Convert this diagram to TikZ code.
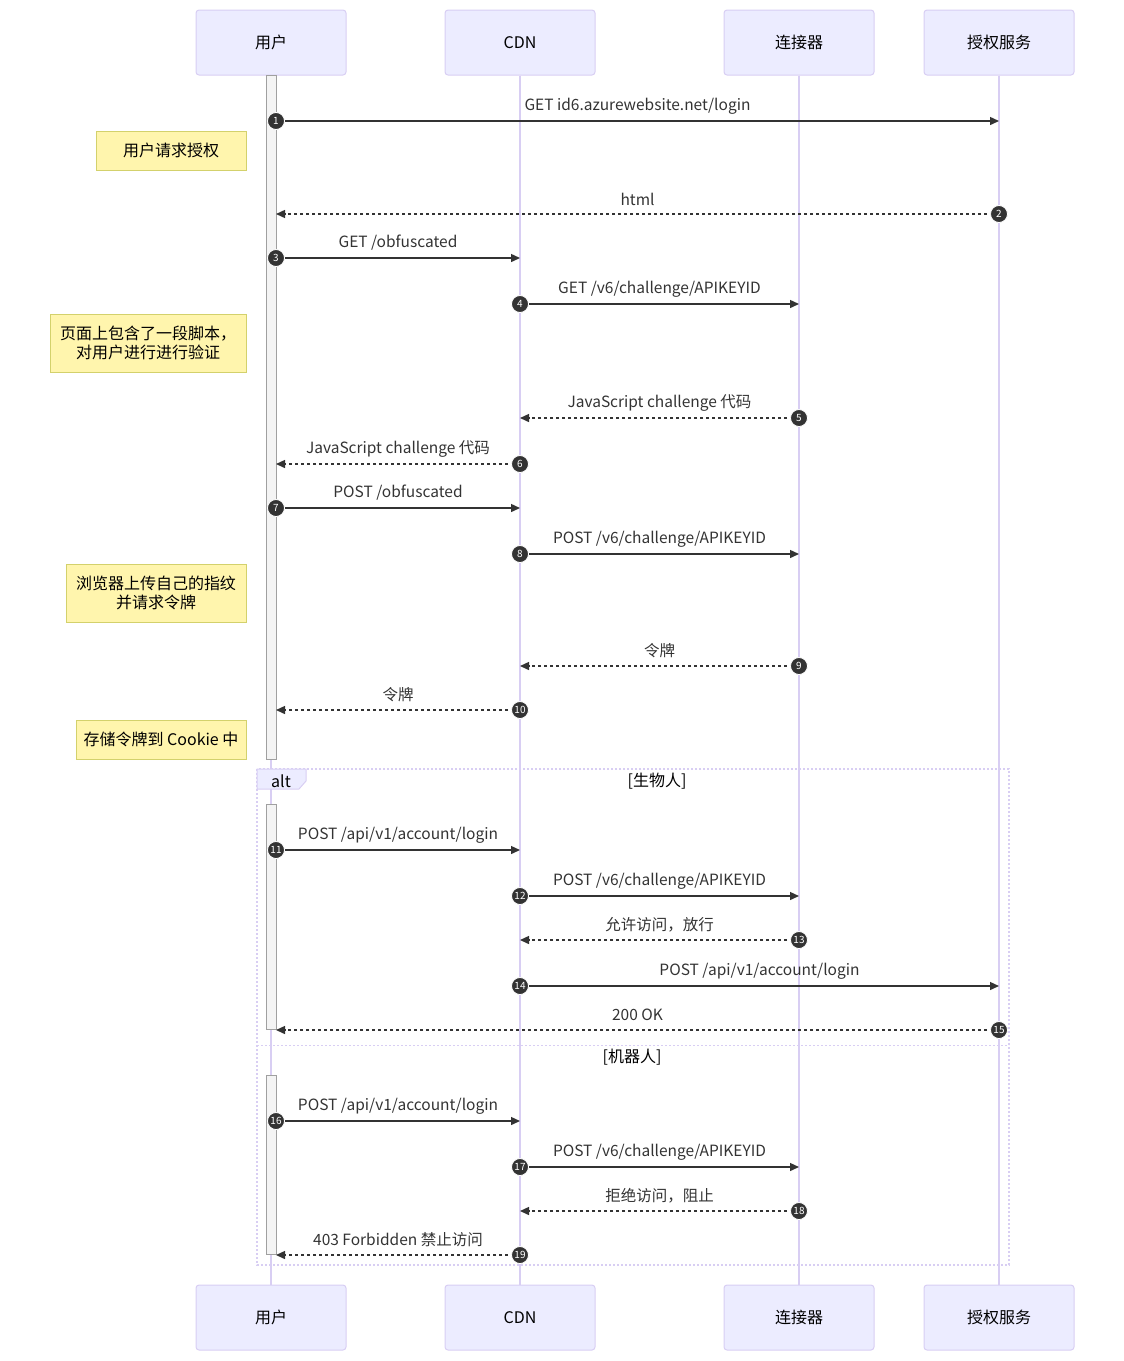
\documentclass[tikz,border=0pt]{standalone}
\usepackage{fontspec}
\setmainfont{Noto Sans CJK SC}
\usetikzlibrary{arrows.meta,calc}
\definecolor{actfill}{HTML}{ECECFF}
\definecolor{actline}{HTML}{D8CEF3}
\definecolor{notefill}{HTML}{FFF5AD}
\definecolor{noteline}{HTML}{D3D16C}
\definecolor{ink}{HTML}{333333}
\definecolor{barfill}{HTML}{F4F4F4}
\definecolor{barline}{HTML}{A0A0A0}

\begin{document}
\begin{tikzpicture}[x=1pt,y=-1pt,
  actor/.style={draw=actline, fill=actfill, line width=1pt, rounded corners=3pt,
    minimum width=150pt, minimum height=65pt, inner sep=0pt,
    font=\fontsize{16}{19}\selectfont, text=black},
  lifeline/.style={draw=actline, line width=1.3pt},
  bar/.style={draw=barline, fill=barfill, line width=1pt},
  note/.style={draw=noteline, fill=notefill, line width=1pt, align=center, inner sep=0pt,
    font=\fontsize{16}{19}\selectfont, text=black},
  frame/.style={draw=actline, line width=1.5pt, dash pattern=on 2pt off 2pt},
  solidmsg/.style={draw=ink, line width=1.4pt, -{Triangle[length=9pt,width=8pt]}},
  dotmsg/.style={draw=ink, line width=1.4pt, dash pattern=on 3pt off 3pt, -{Triangle[length=9pt,width=8pt]}},
  msglabel/.style={font=\fontsize{15.5}{18}\selectfont, text=ink, inner sep=0pt},
  seqnum/.style={circle, fill=ink, draw=white, line width=0.8pt, minimum size=17pt, inner sep=0pt,
    text=white, font=\fontsize{10}{11}\selectfont}
]
\useasboundingbox (0,0) rectangle (1124,1361);

% participants
\foreach \nm/\x/\txt in {u/271/用户, c/520/CDN, k/799/连接器, a/999/授权服务}{
  \node[actor] (\nm T) at (\x,42.5) {\txt};
  \node[actor] (\nm B) at (\x,1317.5) {\txt};
}
\foreach \nm in {u,c,k,a}{
  \draw[lifeline] (\nm T.south) -- (\nm B.north);
}

% activation bars of the user
\draw[bar] (266,75) rectangle (276,759);
\draw[bar] (266,804) rectangle (276,1029);
\draw[bar] (266,1075) rectangle (276,1254);

% alt block
\draw[frame] (257,769) rectangle (1009,1265);
\draw[frame, line width=1pt] (257,1045) -- (1009,1045);
\filldraw[fill=actfill, draw=actline, line width=1pt]
  (257,769) -- (306,769) -- (306,781) -- (299,789) -- (257,789) -- cycle;
\node[font=\fontsize{16}{19}\selectfont, text=black, inner sep=0pt] (altlab) at (281,781) {alt};
\node[font=\fontsize{16}{19}\selectfont, text=black, inner sep=0pt] (g1) at (657,781) {[生物人]};
\node[font=\fontsize{16}{19}\selectfont, text=black, inner sep=0pt] (g2) at (632,1057) {[机器人]};

% notes
\node[note, minimum width=150pt, minimum height=39pt] (n1) at (171,150.5) {用户请求授权};
\node[note, minimum width=196pt, minimum height=58pt] (n2) at (148,343) {页面上包含了一段脚本，\\对用户进行进行验证};
\node[note, minimum width=180pt, minimum height=58pt] (n3) at (156,593) {浏览器上传自己的指纹\\并请求令牌};
\node[note, minimum width=170pt, minimum height=39pt] (n4) at (161,739.5) {存储令牌到 Cookie 中};

% messages: number / y / from x / to x / style / label
\foreach \n/\y/\xa/\xb/\st/\lab in {
  1/121/276/999/solidmsg/{GET id6.azurewebsite.net/login},
  2/214/999/276/dotmsg/{html},
  3/258/276/520/solidmsg/{GET /obfuscated},
  4/304/520/799/solidmsg/{GET /v6/challenge/APIKEYID},
  5/418/799/520/dotmsg/{JavaScript challenge 代码},
  6/464/520/276/dotmsg/{JavaScript challenge 代码},
  7/508/276/520/solidmsg/{POST /obfuscated},
  8/554/520/799/solidmsg/{POST /v6/challenge/APIKEYID},
  9/666/799/520/dotmsg/{令牌},
  10/710/520/276/dotmsg/{令牌},
  11/850/276/520/solidmsg/{POST /api/v1/account/login},
  12/896/520/799/solidmsg/{POST /v6/challenge/APIKEYID},
  13/940/799/520/dotmsg/{允许访问，放行},
  14/986/520/999/solidmsg/{POST /api/v1/account/login},
  15/1030/999/276/dotmsg/{200 OK},
  16/1121/276/520/solidmsg/{POST /api/v1/account/login},
  17/1167/520/799/solidmsg/{POST /v6/challenge/APIKEYID},
  18/1211/799/520/dotmsg/{拒绝访问，阻止},
  19/1255/520/276/dotmsg/{403 Forbidden 禁止访问}}{
  \coordinate (s\n) at (\xa,\y);
  \coordinate (e\n) at (\xb,\y);
  \draw[\st] (s\n) -- (e\n);
  \node[msglabel] (l\n) at ($(s\n)!0.5!(e\n)+(0,-15)$) {\lab};
  \node[seqnum] (q\n) at (s\n) {\n};
}
\end{tikzpicture}
\end{document}
